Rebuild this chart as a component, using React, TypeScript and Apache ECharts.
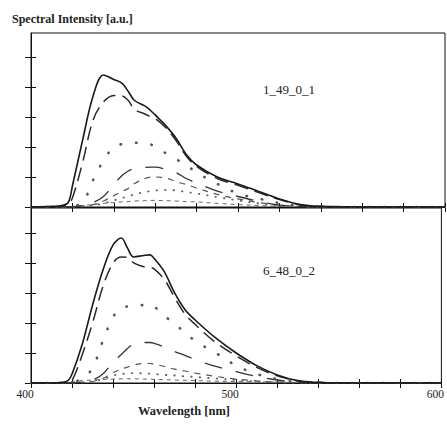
import React, { useEffect, useRef } from "react";
import * as echarts from "echarts";

// Wavelength samples (nm) shared by every curve
const wavelengths = [400, 410, 415, 418, 420, 425, 430, 435, 440, 444, 447, 450, 455, 458, 460, 465, 470, 475, 480, 490, 500, 510, 520, 530, 540, 550, 560, 580, 600];

// Upper panel (1_49_0_1)
const top1 = [0, 0.02, 0.05, 0.15, 0.7, 2.25, 3.7, 4.4, 4.25, 4.12, 3.85, 3.55, 3.37, 3.2, 3.07, 2.72, 2.3, 1.75, 1.4, 1.0, 0.77, 0.52, 0.27, 0.08, 0.02, 0.01, 0, 0, 0];
const top2 = [0, 0, 0.02, 0.1, 0.3, 1.5, 2.9, 3.5, 3.72, 3.7, 3.55, 3.25, 3.1, 3.0, 2.95, 2.65, 2.22, 1.7, 1.35, 0.95, 0.72, 0.48, 0.25, 0.07, 0.02, 0, 0, 0, 0];
const top3 = [0, 0, 0, 0, 0.02, 0.15, 0.9, 1.55, 2.0, 2.1, 2.13, 2.14, 2.12, 2.08, 2.0, 1.8, 1.6, 1.4, 1.15, 0.77, 0.45, 0.28, 0.13, 0.04, 0, 0, 0, 0, 0];
const top4 = [0, 0, 0, 0, 0, 0.05, 0.15, 0.35, 0.75, 1.05, 1.2, 1.28, 1.32, 1.33, 1.33, 1.26, 1.15, 0.95, 0.8, 0.53, 0.35, 0.19, 0.06, 0.02, 0, 0, 0, 0, 0];
const top5 = [0, 0, 0, 0, 0, 0.03, 0.08, 0.2, 0.38, 0.52, 0.62, 0.78, 0.95, 1.0, 1.0, 0.97, 0.85, 0.75, 0.63, 0.42, 0.27, 0.15, 0.07, 0.02, 0, 0, 0, 0, 0];
const top6 = [0, 0, 0, 0, 0, 0.02, 0.05, 0.12, 0.22, 0.3, 0.36, 0.42, 0.5, 0.53, 0.55, 0.57, 0.55, 0.5, 0.45, 0.33, 0.22, 0.12, 0.05, 0.02, 0, 0, 0, 0, 0];
const top7 = [0, 0, 0, 0, 0.02, 0.05, 0.08, 0.12, 0.15, 0.17, 0.18, 0.2, 0.21, 0.22, 0.22, 0.21, 0.2, 0.18, 0.17, 0.12, 0.08, 0.05, 0.02, 0.01, 0, 0, 0, 0, 0];

// Lower panel (6_48_0_2)
const bot1 = [0, 0, 0.02, 0.08, 0.3, 1.3, 2.6, 3.75, 4.6, 4.83, 4.5, 4.2, 4.25, 4.27, 4.15, 3.7, 3.0, 2.45, 2.1, 1.5, 1.0, 0.58, 0.27, 0.08, 0.02, 0, 0, 0, 0];
const bot2 = [0, 0, 0.01, 0.03, 0.08, 0.95, 2.0, 3.2, 4.0, 4.2, 4.18, 4.0, 3.87, 3.85, 3.8, 3.45, 2.85, 2.3, 1.95, 1.35, 0.9, 0.52, 0.24, 0.07, 0.02, 0, 0, 0, 0];
const bot3 = [0, 0, 0, 0, 0.02, 0.15, 0.5, 1.4, 2.2, 2.5, 2.55, 2.57, 2.6, 2.62, 2.55, 2.25, 1.95, 1.7, 1.4, 1.0, 0.58, 0.3, 0.13, 0.04, 0.01, 0, 0, 0, 0];
const bot4 = [0, 0, 0, 0, 0, 0.03, 0.1, 0.3, 0.7, 0.95, 1.15, 1.3, 1.35, 1.35, 1.32, 1.2, 1.05, 0.92, 0.78, 0.55, 0.38, 0.22, 0.1, 0.03, 0, 0, 0, 0, 0];
const bot5 = [0, 0, 0, 0, 0, 0.02, 0.05, 0.15, 0.35, 0.46, 0.53, 0.6, 0.65, 0.65, 0.63, 0.55, 0.46, 0.4, 0.33, 0.22, 0.13, 0.07, 0.03, 0.01, 0, 0, 0, 0, 0];
const bot6 = [0, 0, 0, 0, 0, 0.02, 0.05, 0.12, 0.25, 0.3, 0.32, 0.33, 0.32, 0.31, 0.3, 0.27, 0.25, 0.22, 0.2, 0.15, 0.1, 0.05, 0.02, 0.01, 0, 0, 0, 0, 0];
const bot7 = [0, 0, 0.01, 0.03, 0.05, 0.08, 0.1, 0.12, 0.13, 0.14, 0.14, 0.14, 0.13, 0.13, 0.12, 0.11, 0.1, 0.09, 0.08, 0.06, 0.05, 0.04, 0.03, 0.02, 0.01, 0, 0, 0, 0];

const xTickLabels = [400, 500, 600];
const yTickValues = [0, 1, 2, 3, 4, 5];
const panelNames = ["1_49_0_1", "6_48_0_2"];

const SERIF = '"Liberation Serif", "Times New Roman", serif';

const styles = [
  { type: "solid", width: 1.6, color: "#1a1a1a", cap: "butt" },
  { type: [14, 7], width: 1.5, color: "#2a2a2a", cap: "butt" },
  { type: [0.5, 15], width: 2.6, color: "#555", cap: "round" },
  { type: [18, 14], width: 1.3, color: "#333", cap: "butt" },
  { type: [6, 6], width: 1.2, color: "#555", cap: "butt" },
  { type: [0.5, 8], width: 1.9, color: "#666", cap: "round" },
  { type: [4, 4], width: 1.0, color: "#666", cap: "butt" },
];

export default function App() {
  const ref = useRef<HTMLDivElement>(null);
  useEffect(() => {
    if (!ref.current) return;
    const chart = echarts.init(ref.current, null, { renderer: "svg" });

    const grids = [
      { left: 31, right: 2, top: 33, height: 174, show: true, borderColor: "#111", borderWidth: 1 },
      { left: 31, right: 2, top: 208, height: 175, show: true, borderColor: "#111", borderWidth: 1 },
    ];
    const yMax = [5.8, 5.83];

    const xAxes: any[] = [];
    const yAxes: any[] = [];
    [0, 1].forEach((g) => {
      xAxes.push({
        type: "value", gridIndex: g, min: 400, max: 600, interval: 20, position: "bottom",
        axisLine: { show: true, onZero: false, lineStyle: { color: "#111", width: 1.2 } },
        axisTick: { show: true, inside: false, length: 5, lineStyle: { color: "#111" } },
        splitLine: { show: false },
        axisLabel: g === 1
          ? { show: true, customValues: xTickLabels, fontFamily: SERIF, fontSize: 11.5, color: "#222", margin: 5, padding: [0, 12, 0, 0] }
          : { show: false },
      });
      xAxes.push({
        type: "value", gridIndex: g, min: 400, max: 600, interval: 20, position: "bottom",
        axisLine: { show: false, onZero: false },
        axisTick: { show: true, inside: true, length: 4, lineStyle: { color: "#111" } },
        splitLine: { show: false }, axisLabel: { show: false },
      });
      yAxes.push({
        type: "value", gridIndex: g, min: 0, max: yMax[g], position: "left",
        axisLine: { show: true, onZero: false, lineStyle: { color: "#111" } },
        axisTick: { show: true, inside: false, length: 6, customValues: yTickValues, lineStyle: { color: "#111" } },
        splitLine: { show: false }, axisLabel: { show: false },
      });
      yAxes.push({
        type: "value", gridIndex: g, min: 0, max: yMax[g], position: "left",
        axisLine: { show: false, onZero: false },
        axisTick: { show: true, inside: true, length: 5, customValues: yTickValues, lineStyle: { color: "#111" } },
        splitLine: { show: false }, axisLabel: { show: false },
      });
    });

    const panels = [
      [top1, top2, top3, top4, top5, top6, top7],
      [bot1, bot2, bot3, bot4, bot5, bot6, bot7],
    ];
    const series: any[] = [];
    panels.forEach((arrs, g) => {
      arrs.forEach((arr, k) => {
        const s = styles[k];
        series.push({
          type: "line",
          xAxisIndex: g * 2,
          yAxisIndex: g * 2,
          data: wavelengths.map((w, i) => [w, arr[i]]),
          smooth: 0.35,
          symbol: "none",
          z: 10 - k,
          lineStyle: { type: s.type, width: s.width, color: s.color, cap: s.cap },
        });
      });
    });

    chart.setOption({
      animation: false,
      backgroundColor: "#fff",
      grid: grids,
      xAxis: xAxes,
      yAxis: yAxes,
      series,
      graphic: [
        { type: "text", left: 12, top: 13, style: { text: "Spectral Intensity [a.u.]", fontFamily: SERIF, fontSize: 12, fontWeight: "bold", fill: "#222" } },
        { type: "text", left: 138, top: 404, style: { text: "Wavelength [nm]", fontFamily: SERIF, fontSize: 12.5, fontWeight: "bold", fill: "#222" } },
        { type: "text", left: 263, top: 83, style: { text: panelNames[0], fontFamily: SERIF, fontSize: 13, fill: "#222" } },
        { type: "text", left: 263, top: 264, style: { text: panelNames[1], fontFamily: SERIF, fontSize: 13, fill: "#222" } },
      ],
    });
    return () => chart.dispose();
  }, []);
  return <div ref={ref} style={{ position: "fixed", left: 0, top: 0, width: 447, height: 425 }} />;
}
